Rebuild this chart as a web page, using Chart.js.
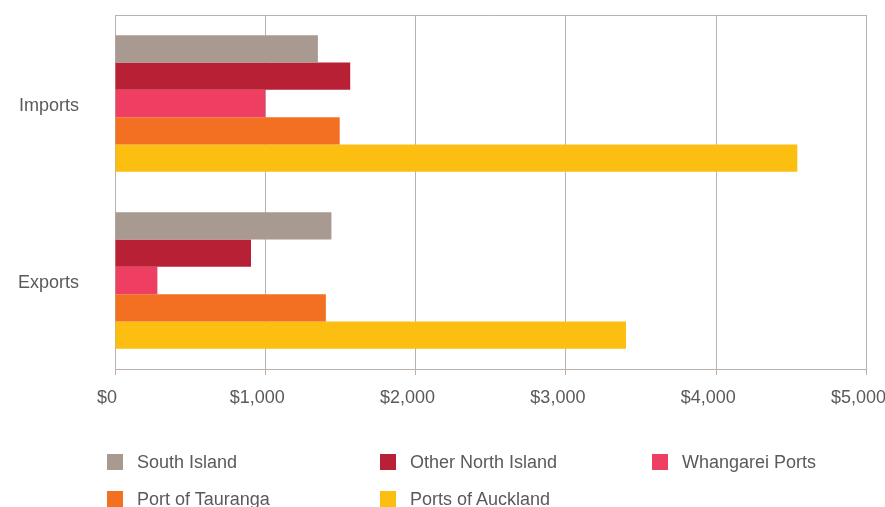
<!DOCTYPE html>
<html>
<head>
<meta charset="utf-8">
<script src="https://cdn.jsdelivr.net/npm/chart.js@4"></script>
<style>
  html, body { margin: 0; padding: 0; background: #fff; overflow: hidden; }
  .wrap { position: relative; width: 885px; height: 507px; overflow: hidden; }
  .chart-box { position: absolute; left: 0; top: 0; width: 906px; height: 440px; }
  .legend { position: absolute; left: 0; top: 0; width: 885px; height: 507px; pointer-events: none; }
  .legend-item { position: absolute; display: flex; align-items: center; font: 18px "Liberation Sans", Arial, sans-serif; color: #5a5a5a; white-space: nowrap; }
  .legend-item span.box { display: inline-block; width: 16px; height: 16px; margin-right: 14px; }
</style>
</head>
<body>
<div class="wrap">
  <div class="chart-box"><canvas id="chart"></canvas></div>
  <div class="legend" id="legend"></div>
</div>
<script>
const categories = ["Imports", "Exports"];

const seriesNames = ["South Island", "Other North Island", "Whangarei Ports", "Port of Tauranga", "Ports of Auckland"];
const southIsland = [1350, 1440];
const otherNorthIsland = [1565, 905];
const whangareiPorts = [1000, 282];
const portOfTauranga = [1495, 1403];
const portsOfAuckland = [4540, 3400];

const xTicks = [0, 1000, 2000, 3000, 4000, 5000];

const seriesColors = ["#a89a90", "#b82035", "#ee3e62", "#f36f21", "#fdbe12"];
const gridColor = "#bcb1a9";
const textColor = "#5a5a5a";
const fontFamily = '"Liberation Sans", Arial, sans-serif';

const seriesValues = [southIsland, otherNorthIsland, whangareiPorts, portOfTauranga, portsOfAuckland];

// top border of the plot area (no gridline there by default)
const topBorder = {
  id: "topBorder",
  beforeDatasetsDraw(chart) {
    const { ctx, chartArea } = chart;
    ctx.save();
    ctx.strokeStyle = gridColor;
    ctx.lineWidth = 1;
    ctx.beginPath();
    ctx.moveTo(chartArea.left, chartArea.top + 0.5);
    ctx.lineTo(chartArea.right, chartArea.top + 0.5);
    ctx.stroke();
    ctx.restore();
  },
};

new Chart(document.getElementById("chart"), {
  type: "bar",
  data: {
    labels: categories,
    datasets: seriesNames.map((name, i) => ({
      label: name,
      data: seriesValues[i],
      backgroundColor: seriesColors[i],
      borderWidth: 0,
    })),
  },
  options: {
    indexAxis: "y",
    responsive: true,
    maintainAspectRatio: false,
    animation: false,
    categoryPercentage: 0.77,
    barPercentage: 1,
    layout: { padding: { top: 15, right: 34, left: 0, bottom: 0 } },
    plugins: {
      legend: { display: false },
      tooltip: { enabled: false },
    },
    scales: {
      x: {
        min: 0,
        max: 5000,
        afterBuildTicks: (scale) => {
          scale.ticks = xTicks.map((v) => ({ value: v }));
        },
        afterFit: (scale) => {
          scale.height = 71;
        },
        grid: { color: gridColor, tickLength: 6, lineWidth: 1 },
        border: { color: gridColor },
        ticks: {
          padding: 12,
          labelOffset: -8,
          color: textColor,
          font: { family: fontFamily, size: 18 },
          maxRotation: 0,
          callback: (v) => "$" + Number(v).toLocaleString("en-US"),
        },
      },
      y: {
        afterFit: (scale) => {
          scale.width = 115;
          // the big label padding would otherwise push the plot down
          scale.paddingTop = 0;
          scale.paddingBottom = 0;
        },
        grid: { display: false, drawTicks: false },
        border: { color: gridColor },
        ticks: {
          padding: 36,
          labelOffset: 3,
          color: textColor,
          font: { family: fontFamily, size: 18 },
        },
      },
    },
  },
  plugins: [topBorder],
});

// legend laid out in three columns like the original
const legendCols = [107, 380, 652];
const legendRows = [454, 491];
const legendEl = document.getElementById("legend");
seriesNames.forEach((name, i) => {
  const item = document.createElement("div");
  item.className = "legend-item";
  item.style.left = legendCols[i % 3] + "px";
  item.style.top = legendRows[Math.floor(i / 3)] - 2 + "px";
  item.style.height = "20px";
  item.innerHTML = `<span class="box" style="background:${seriesColors[i]}"></span>${name}`;
  legendEl.appendChild(item);
});
</script>
</body>
</html>
